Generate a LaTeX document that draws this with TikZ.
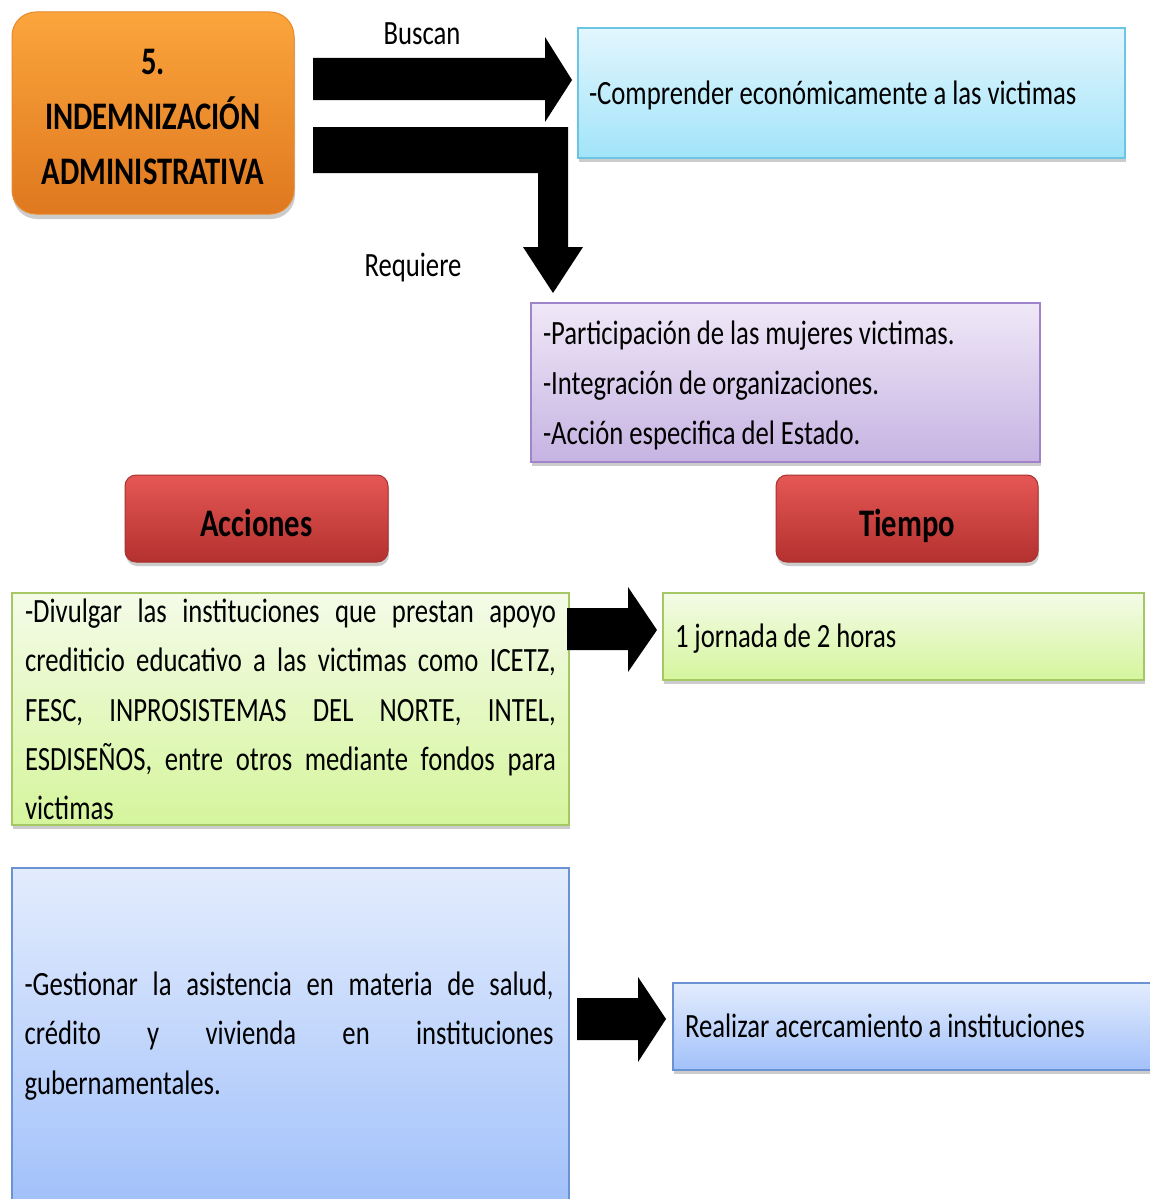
\documentclass[tikz,border=0pt]{standalone}
\usepackage{fontspec}
\setmainfont{Carlito}[FakeStretch=0.785]
\usetikzlibrary{shadows}
\definecolor{orTop}{HTML}{FBA53C}
\definecolor{orBot}{HTML}{DF781F}
\definecolor{orLine}{HTML}{E8892A}
\definecolor{cyTop}{HTML}{E2F6FD}
\definecolor{cyBot}{HTML}{A2E4FA}
\definecolor{cyLine}{HTML}{6CC6E3}
\definecolor{puTop}{HTML}{EFE8F7}
\definecolor{puBot}{HTML}{C6B3E2}
\definecolor{puLine}{HTML}{9F84C9}
\definecolor{rdTop}{HTML}{E55754}
\definecolor{rdBot}{HTML}{B3312F}
\definecolor{rdLine}{HTML}{A83230}
\definecolor{grTop}{HTML}{F4FBE8}
\definecolor{grBot}{HTML}{D5F59C}
\definecolor{grLine}{HTML}{A5C765}
\definecolor{blTop}{HTML}{E3ECFD}
\definecolor{blBot}{HTML}{A2C1FA}
\definecolor{blLine}{HTML}{6B93D3}
\newcommand\tsp{\spaceskip=5.9pt plus 1pt minus 1pt\relax}
\newcommand\jl[2]{\makebox[#1][s]{\spaceskip=0pt plus 1fil\relax #2}}
\begin{document}
\begin{tikzpicture}[x=1pt,y=-1pt,
  txt/.style={font=\fontsize{34}{49.3}\selectfont, text=black},
  box/.style={rectangle, draw, line width=1.2pt, txt,
    drop shadow={opacity=0.4, shadow xshift=1pt, shadow yshift=-4pt},
    align=left, anchor=center},
  oneline/.style={text height=30pt, text depth=8pt},
  cybox/.style={box, draw=cyLine, top color=cyTop, bottom color=cyBot},
  pubox/.style={box, draw=puLine, top color=puTop, bottom color=puBot},
  grbox/.style={box, draw=grLine, top color=grTop, bottom color=grBot},
  blbox/.style={box, draw=blLine, top color=blTop, bottom color=blBot},
  rdbox/.style={rectangle, rounded corners=11pt, draw=rdLine, line width=1pt,
    top color=rdTop, bottom color=rdBot, text=black,
    font=\fontsize{39}{45}\selectfont\bfseries,
    text height=35pt, text depth=0pt,
    drop shadow={opacity=0.4, shadow xshift=1pt, shadow yshift=-4pt},
    minimum width=263pt, minimum height=87pt, inner sep=0pt},
  blocktext/.style={txt, align=left, inner sep=0pt},
  blockarrow/.style={fill=black}
]
\useasboundingbox (0,0) rectangle (1150,1199);
\fill[white] (0,0) rectangle (1150,1199);

% main orange box
\node[rectangle, rounded corners=24pt, draw=orLine, line width=1pt,
  top color=orTop, bottom color=orBot,
  drop shadow={opacity=0.4, shadow xshift=1pt, shadow yshift=-5pt},
  minimum width=282pt, minimum height=202pt, inner sep=0pt] (main) at (153,113) {};
\node[text=black, align=center, inner sep=0pt,
  font=\fontsize{39}{55}\selectfont\bfseries] (mainText) at (153,117)
  {5.\\INDEMNIZACIÓN\\ADMINISTRATIVA};

% target boxes
\node[cybox, oneline, minimum width=547pt, minimum height=130pt, inner xsep=11pt,
  text width=525pt] (busca) at (851.5,93) {\tsp -Comprender económicamente a las victimas};

\node[pubox, minimum width=509pt, minimum height=159pt] (requ) at (785.5,382.5) {};
\node[blocktext, font=\fontsize{34}{50}\selectfont, text width=485pt] (requText) at (785.5,385.5)
  {\tsp -Participación de las mujeres victimas.\\-Integración de organizaciones.\\-Acción especifica del Estado.};

\node[rdbox] (acc) at (256.5,518.5) {Acciones};
\node[rdbox, minimum width=262pt] (tiem) at (907,518.5) {Tiempo};

\node[grbox, minimum width=557pt, minimum height=232pt] (acc1) at (290.5,709) {};
\node[blocktext, text width=531pt] (acc1Text) at (290.5,709.5)
  {\tsp\jl{531pt}{-Divulgar las instituciones que prestan apoyo}\\
   \jl{531pt}{crediticio educativo a las victimas como ICETZ,}\\
   \jl{531pt}{FESC, INPROSISTEMAS DEL NORTE, INTEL,}\\
   \jl{531pt}{ESDISEÑOS, entre otros mediante fondos para}\\
   victimas};

\node[grbox, oneline, minimum width=481pt, minimum height=87pt, inner xsep=12pt,
  text width=457pt] (tiem1) at (903.5,636.5) {\tsp 1 jornada de 2 horas};

\node[blbox, minimum width=557pt, minimum height=334pt] (acc2) at (290.5,1035) {};
\node[blocktext, text width=529pt] (acc2Text) at (289,1036)
  {\tsp\jl{529pt}{-Gestionar la asistencia en materia de salud,}\\
   \jl{529pt}{crédito y vivienda en instituciones}\\
   gubernamentales.};

\node[blbox, oneline, minimum width=494pt, minimum height=87pt, inner xsep=12pt,
  text width=470pt] (tiem2) at (920,1026.5) {\tsp Realizar acercamiento a instituciones};

% labels
\node[txt] (lbuscan) at (422,34) {Buscan};
\node[txt] (lrequiere) at (413,268) {Requiere};

% block arrows
\fill[blockarrow] (313,58) -- (545,58) -- (545,37) -- (572,80) -- (545,122)
  -- (545,100) -- (313,100) -- cycle;
\fill[blockarrow] (313,127) -- (568,127) -- (568,247) -- (583,247) -- (553,293)
  -- (523,247) -- (538,247) -- (538,173) -- (313,173) -- cycle;
\fill[blockarrow] (567,608) -- (628,608) -- (628,587) -- (657,630) -- (628,672)
  -- (628,650) -- (567,650) -- cycle;
\fill[blockarrow] (577,998) -- (638,998) -- (638,977) -- (666,1019) -- (638,1062)
  -- (638,1040) -- (577,1040) -- cycle;
\end{tikzpicture}
\end{document}
